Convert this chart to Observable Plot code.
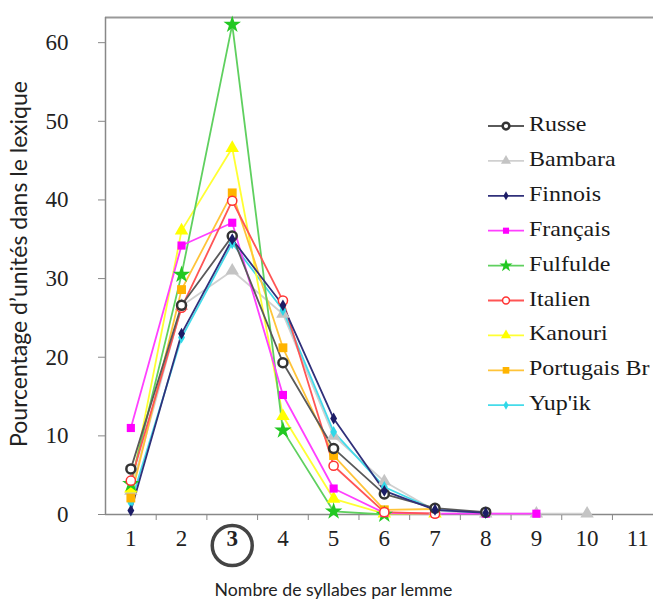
<!DOCTYPE html>
<html><head><meta charset="utf-8">
<script src="https://cdn.jsdelivr.net/npm/d3@7"></script>
<script src="https://cdn.jsdelivr.net/npm/@observablehq/plot@0.6"></script>
<style>
body{margin:0;background:#fff;}
#wrap{position:relative;width:653px;height:610px;overflow:hidden;background:#fff;}
#wrap svg{position:absolute;left:0;top:0;}
</style></head><body><div id="wrap"></div>
<script>
const syllables = [1,2,3,4,5,6,7,8,9,10,11];
const boundaries = [1.5,2.5,3.5,4.5,5.5,6.5,7.5,8.5,9.5,10.5];
const yTicks = [0,10,20,30,40,50,60];
const languages = ["Russe","Bambara","Finnois","Français","Fulfulde","Italien","Kanouri","Portugais Br","Yup'ik"];
const russe     = [5.8, 26.6, 35.4, 19.3, 8.4, 2.6, 0.8, 0.3];
const bambara   = [3.0, 26.5, 31.0, 25.5, 10.0, 4.2, 0.5, 0.1, 0.1, 0.1];
const finnois   = [0.5, 23.0, 35.0, 26.6, 12.2, 3.0, 0.6, 0.2];
const francais  = [11.0, 34.2, 37.1, 15.2, 3.3, 0.2, 0.1, 0.1, 0.1];
const fulfulde  = [3.9, 30.5, 62.3, 10.7, 0.4, 0.0];
const italien   = [4.3, 26.3, 39.9, 27.2, 6.2, 0.3, 0.1];
const kanouri   = [3.3, 36.1, 46.6, 12.5, 2.0, 0.1, 0.1];
const portugais = [2.1, 28.6, 40.9, 21.2, 7.5, 0.6, 0.7];
const yupik     = [1.5, 22.5, 34.5, 26.0, 10.5, 3.5, 0.6, 0.2];
const xLabel = "Nombre de syllabes par lemme";
const yLabel = "Pourcentage d’unités dans le lexique";

const seriesValues = [russe, bambara, finnois, francais, fulfulde, italien, kanouri, portugais, yupik];
const styles = [
  {line:"#5a5a5a", symbol:"circle",   fill:"white",   stroke:"#333", r:4.5, sw:2.5},
  {line:"#d0d0d0", symbol:"triangle", fill:"#c4c4c4", stroke:"none", r:5,   sw:0},
  {line:"#30307a", symbol:"diamond",  fill:"#1c1c66", stroke:"none", r:3.6, sw:0},
  {line:"#ff40ff", symbol:"square",   fill:"#ff00ff", stroke:"none", r:4.6, sw:0},
  {line:"#5fd05f", symbol:"star",     fill:"#22c822", stroke:"none", r:5.5, sw:0},
  {line:"#ff5555", symbol:"circle",   fill:"white",   stroke:"#ff3333", r:4.6, sw:1.5},
  {line:"#ffff33", symbol:"triangle", fill:"#ffff00", stroke:"none", r:5,   sw:0},
  {line:"#ffc43a", symbol:"square",   fill:"#ffb400", stroke:"none", r:5,   sw:0},
  {line:"#45dbea", symbol:"diamond",  fill:"#30d8e8", stroke:"none", r:3.6, sw:0}
];
const drawOrder = [1,8,6,7,4,3,5,0,2];
const rowsOf = i => seriesValues[i].map((v,j)=>({x: syllables[j], y: v}));

const marks = [];
for (const i of drawOrder) {
  marks.push(Plot.line(rowsOf(i), {x:"x", y:"y", stroke: styles[i].line, strokeWidth: 1.8}));
}
for (const i of drawOrder) {
  const s = styles[i];
  marks.push(Plot.dot(rowsOf(i), {x:"x", y:"y", symbol: s.symbol, fill: s.fill, stroke: s.stroke, strokeWidth: s.sw, r: s.r}));
}

const serif = "Liberation Serif, Times New Roman, serif";
const chart = Plot.plot({
  width: 653, height: 610,
  marginLeft: 105, marginTop: 17, marginBottom: 96, marginRight: 0,
  x: {domain: [0.5, 11.31], axis: null},
  y: {domain: [0, 63.2], axis: null},
  style: {background: "white", overflow: "visible"},
  marks: [
    Plot.ruleY([63.2], {stroke: "#999", strokeWidth: 2}),
    Plot.ruleX([0.5], {stroke: "#888", strokeWidth: 1.5}),
    Plot.ruleY([0], {stroke: "#888", strokeWidth: 1.5}),
    Plot.axisY(yTicks, {label: null, tickSize: 7, tickPadding: 30, fontSize: 23, fontFamily: serif, stroke: "#888", fill: "#222", tickFormat: d => String(d)}),
    Plot.axisX(boundaries, {label: null, tickSize: 6, stroke: "#888", tickFormat: () => ""}),
    Plot.text(syllables.filter(d => d !== 3), {x: d => d, text: d => String(d), frameAnchor: "bottom", dy: 31, fontSize: 23, fontFamily: serif, fill: "#222"}),
    Plot.text([3], {x: d => d, text: d => String(d), frameAnchor: "bottom", dy: 31, fontSize: 23, fontFamily: serif, fontWeight: "bold", fill: "#222"}),
    Plot.dot([3], {x: d => d, frameAnchor: "bottom", dy: 31, r: 20, stroke: "#444", strokeWidth: 3.5, fill: "none"}),
    Plot.text([yLabel], {text: d => d, frameAnchor: "left", textAnchor: "middle", dx: -86, dy: -2, rotate: -90, fontSize: 23, fontFamily: "Lato, sans-serif", fill: "#222"}),
    Plot.text([xLabel], {text: d => d, frameAnchor: "bottom", textAnchor: "middle", dy: 81, dx: -46, fontSize: 17.7, fontFamily: "Lato, sans-serif", fill: "#222"}),
    ...marks
  ]
});
document.getElementById("wrap").appendChild(chart);

// legend
const lg = d3.select("#wrap").append("svg").attr("width", 653).attr("height", 610).style("pointer-events","none");
const symMap = {circle: d3.symbolCircle, triangle: d3.symbolTriangle, diamond: d3.symbolDiamond, square: d3.symbolSquare, star: d3.symbolStar};
languages.forEach((name, i) => {
  const s = styles[i];
  const yy = 123 + i * 34.9;
  const g = lg.append("g");
  g.append("line").attr("x1", 488).attr("x2", 524).attr("y1", yy + 3).attr("y2", yy + 3).attr("stroke", s.line).attr("stroke-width", 1.8);
  g.append("path").attr("transform", `translate(506,${yy + 3})`)
    .attr("d", d3.symbol(symMap[s.symbol], Math.PI * (s.r * 0.75) ** 2)())
    .attr("fill", s.fill).attr("stroke", s.stroke).attr("stroke-width", s.sw);
  g.append("text").attr("transform", `translate(529,${yy + 8}) scale(1.2,1)`)
    .attr("font-family", serif).attr("font-size", 20).attr("fill", "#1a1a1a").text(name);
});
</script></body></html>
